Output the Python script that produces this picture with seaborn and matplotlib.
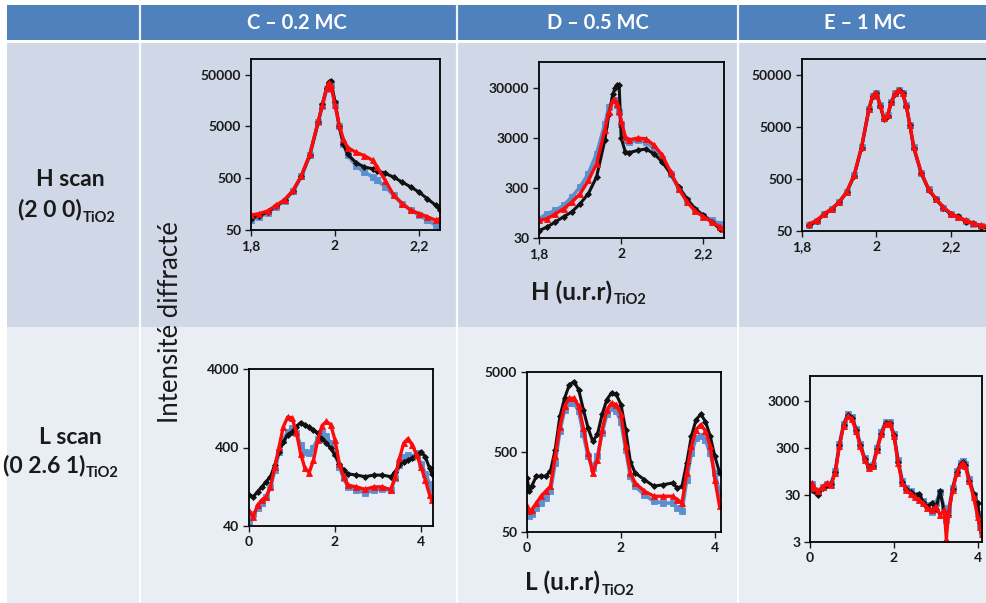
import matplotlib
matplotlib.use("Agg")
import matplotlib.pyplot as plt
from matplotlib.patches import Rectangle
from matplotlib.ticker import NullLocator
import seaborn as sns

# ============ data ============
# H scans, C - 0.2 MC
hC_x = [1.80, 1.82, 1.84, 1.86, 1.88, 1.90, 1.92, 1.94, 1.96, 1.97, 1.98, 1.985, 1.99, 2.00,
        2.01, 2.02, 2.03, 2.05, 2.07, 2.09, 2.10, 2.12, 2.14, 2.16, 2.18, 2.20, 2.22, 2.24, 2.25]
hC_black = [83, 95, 112, 145, 190, 285, 550, 1400, 6000, 13500, 28000, 36000, 38000, 15000,
            5000, 2300, 1450, 1000, 820, 760, 700, 620, 520, 420, 340, 270, 200, 150, 120]
hC_blue = [78, 90, 108, 140, 185, 280, 540, 1400, 6000, 12500, 26000, 32000, 33000, 14000,
           5000, 2300, 1400, 870, 650, 530, 460, 340, 232, 162, 121, 97, 78, 62, 54]
hC_red = [97, 104, 117, 150, 192, 290, 560, 1450, 6300, 13000, 27000, 34000, 32000, 13000,
          5400, 2800, 1950, 1580, 1360, 1100, 820, 450, 232, 162, 121, 104, 90, 77, 83]

# H scans, D - 0.5 MC
hD_x = [1.80, 1.82, 1.84, 1.86, 1.88, 1.90, 1.92, 1.94, 1.96, 1.97, 1.98, 1.985, 1.99, 1.995,
        2.00, 2.01, 2.02, 2.04, 2.06, 2.08, 2.10, 2.12, 2.14, 2.16, 2.18, 2.20, 2.22, 2.24, 2.25]
hD_black = [42, 50, 63, 80, 100, 146, 230, 500, 2700, 9000, 23000, 30000, 34000, 34000,
            3000, 1580, 1540, 1700, 1820, 1450, 1000, 580, 315, 183, 115, 85, 63, 46, 43]
hD_blue = [73, 92, 107, 135, 200, 315, 580, 1450, 5700, 12500, 17000, 17000, 14000, 10000,
           5700, 2700, 2500, 2700, 2500, 1820, 1160, 580, 290, 170, 107, 83, 68, 58, 54]
hD_red = [68, 73, 92, 115, 158, 230, 425, 920, 4300, 10000, 17000, 17500, 14500, 10500,
          6700, 3150, 2770, 3000, 2900, 2150, 1350, 630, 290, 158, 103, 80, 63, 50, 46]

# H scans, E - 1 MC
hE_x = [1.82, 1.84, 1.86, 1.88, 1.90, 1.92, 1.94, 1.96, 1.98, 1.99, 2.00, 2.01, 2.02, 2.03,
        2.04, 2.05, 2.06, 2.07, 2.08, 2.09, 2.10, 2.12, 2.14, 2.16, 2.18, 2.20, 2.22, 2.24,
        2.26, 2.28, 2.30]
hE_black = [64, 78, 104, 131, 178, 276, 575, 2000, 11000, 19500, 22000, 12800, 7200, 8200,
            14800, 21700, 25000, 21800, 12800, 5300, 2000, 650, 312, 202, 140, 104, 95, 76,
            72, 60, 58]
hE_blue = [66, 79, 106, 133, 180, 280, 585, 2030, 11100, 19800, 22300, 12900, 7250, 8250,
           14900, 21800, 25100, 21900, 12900, 5350, 2030, 660, 316, 205, 141, 106, 91, 78,
           69, 62, 59]
hE_red = [69, 80, 108, 134, 181, 282, 590, 2050, 11200, 20000, 22500, 13000, 7300, 8300,
          15000, 22000, 25300, 22000, 13000, 5400, 2050, 670, 320, 208, 143, 108, 93, 80,
          70, 64, 61]

# L scans, C - 0.2 MC
lC_x = [0.0, 0.1, 0.2, 0.3, 0.4, 0.5, 0.6, 0.7, 0.8, 0.9, 1.0, 1.1, 1.2, 1.3, 1.4, 1.5, 1.6,
        1.7, 1.8, 1.9, 2.0, 2.1, 2.2, 2.3, 2.5, 2.7, 2.9, 3.1, 3.3, 3.4, 3.5, 3.6, 3.7, 3.8,
        3.9, 4.0, 4.1, 4.2, 4.25]
lC_black = [100, 94, 110, 126, 147, 170, 240, 355, 475, 580, 635, 740, 830, 780, 720, 670,
            610, 520, 455, 390, 320, 250, 205, 185, 178, 170, 178, 178, 170, 196, 240, 265,
            275, 290, 320, 355, 305, 218, 185]
lC_blue = [45, 57, 67, 78, 94, 126, 205, 355, 500, 635, 700, 610, 430, 355, 340, 400, 520,
           610, 555, 455, 340, 228, 163, 126, 115, 105, 115, 117, 115, 163, 240, 305, 320,
           305, 340, 250, 185, 139, 120]
lC_red = [63, 52, 74, 86, 94, 126, 227, 410, 740, 980, 950, 635, 335, 218, 192, 275, 500,
          760, 860, 780, 500, 250, 170, 132, 126, 117, 126, 126, 115, 170, 290, 455, 520,
          430, 320, 228, 155, 100, 86]

# L scans, D - 0.5 MC
lD_x = [0.0, 0.05, 0.1, 0.2, 0.3, 0.4, 0.5, 0.6, 0.7, 0.8, 0.9, 1.0, 1.1, 1.2, 1.3, 1.4,
        1.5, 1.6, 1.7, 1.8, 1.9, 2.0, 2.1, 2.2, 2.3, 2.5, 2.7, 2.9, 3.1, 3.2, 3.3, 3.4, 3.5,
        3.6, 3.7, 3.8, 3.9, 4.0, 4.1]
lD_black = [236, 162, 187, 250, 250, 250, 290, 535, 1390, 2350, 3450, 3800, 3000, 1690,
            1000, 680, 830, 1480, 2260, 2750, 2620, 1960, 950, 380, 275, 225, 187, 195, 205,
            177, 187, 365, 790, 1270, 1480, 1200, 790, 440, 275]
lD_blue = [87, 79, 83, 100, 115, 133, 162, 365, 910, 1690, 2050, 2050, 1620, 830, 440, 316,
           440, 870, 1480, 1780, 1620, 1200, 535, 250, 187, 146, 121, 115, 115, 100, 91, 225,
           485, 750, 790, 700, 485, 275, 155]
lD_red = [105, 91, 95, 115, 140, 162, 187, 440, 1040, 1860, 2350, 2350, 1860, 1000, 485,
          275, 400, 950, 1690, 2050, 1960, 1480, 590, 275, 205, 162, 140, 140, 140, 127, 115,
          275, 590, 950, 1100, 910, 590, 225, 105]

# L scans, E - 1 MC
lE_x = [0.0, 0.05, 0.1, 0.2, 0.3, 0.4, 0.5, 0.6, 0.7, 0.8, 0.9, 1.0, 1.1, 1.2, 1.3, 1.4,
        1.5, 1.6, 1.7, 1.8, 1.9, 2.0, 2.1, 2.2, 2.3, 2.4, 2.5, 2.6, 2.7, 2.8, 2.9, 3.0, 3.1,
        3.2, 3.25, 3.3, 3.4, 3.5, 3.6, 3.65, 3.7, 3.8, 3.9, 4.0, 4.05, 4.1]
lE_black = [40, 47, 36, 30, 42, 48, 50, 90, 340, 900, 1480, 1280, 720, 340, 175, 118, 126,
            285, 600, 990, 1030, 560, 150, 56, 40, 34, 29, 32, 21, 17, 20, 15, 36, 13, 12,
            11, 40, 90, 138, 150, 128, 60, 32, 20, 8, 5]
lE_blue = [42, 50, 38, 34, 44, 50, 52, 95, 360, 950, 1550, 1350, 760, 360, 185, 125, 132,
           300, 640, 1050, 1080, 600, 165, 60, 42, 36, 30, 26, 22, 18, 13, 20, 34, 16, 9,
           14, 42, 95, 145, 158, 135, 64, 30, 12, 7, 5]
lE_red = [45, 53, 42, 36, 45, 53, 49, 87, 325, 870, 1430, 1210, 680, 325, 169, 113, 121,
          275, 580, 950, 1000, 540, 145, 53, 38, 32, 27, 23, 20, 15.5, 14.4, 17, 11.2, 14.4,
          3.5, 12, 38, 87, 131, 145, 121, 58, 27, 10.2, 6.3, 4.5]

h_ticks = [1.8, 2.0, 2.2]
h_ticklabels = ["1,8", "2", "2,2"]
l_ticks = [0, 2, 4]
l_ticklabels = ["0", "2", "4"]

columns = ["C – 0.2 MC", "D – 0.5 MC", "E – 1 MC"]

# ============ style ============
sns.set_style("white")
plt.rcParams["font.family"] = ["Lato", "DejaVu Sans"]

HEADER = "#4F81BD"
BAND1 = "#D0D8E8"
BAND2 = "#E9EDF4"
INK = "#1A1A1A"
C_BLACK = "#111111"
C_BLUE = "#5B8FCF"
C_RED = "#FF0a0a"

W, H = 987, 603
fig = plt.figure(figsize=(W / 100, H / 100), dpi=100)

# table background, drawn in pixel coordinates
bg = fig.add_axes([0, 0, 1, 1])
bg.set_xlim(0, W)
bg.set_ylim(H, 0)
bg.axis("off")
bg.add_patch(Rectangle((7, 5), W - 7, 35, color=HEADER, lw=0))
bg.add_patch(Rectangle((7, 43), W - 7, 284, color=BAND1, lw=0))
bg.add_patch(Rectangle((7, 327), W - 7, H - 327, color=BAND2, lw=0))
for xc in (140, 457, 738):
    bg.plot([xc, xc], [5, H], color="white", lw=1.6, alpha=0.9)

for xc, name in zip((297, 598, 865), columns):
    bg.text(xc, 23, name, ha="center", va="center", color="white",
            fontsize=14.5, fontweight="bold")

# row labels
bg.text(70, 180, "H scan", ha="center", va="center", color=INK, fontsize=16.5, fontweight="bold")
bg.text(82, 210, "(2 0 0)", ha="right", va="center", color=INK, fontsize=16.5, fontweight="bold")
bg.text(83, 218, "TiO2", ha="left", va="center", color=INK, fontsize=10.5, fontweight="bold")
bg.text(70, 437, "L scan", ha="center", va="center", color=INK, fontsize=16.5, fontweight="bold")
bg.text(85, 465, "(0 2.6 1)", ha="right", va="center", color=INK, fontsize=16.5, fontweight="bold")
bg.text(86, 473, "TiO2", ha="left", va="center", color=INK, fontsize=10.5, fontweight="bold")

# shared axis titles
bg.text(170, 322, "Intensité diffracté", rotation=90, ha="center", va="center",
        color=INK, fontsize=18.5)
bg.text(612, 292, "H (u.r.r)", ha="right", va="center", color=INK, fontsize=17.5, fontweight="bold")
bg.text(614, 300, "TiO2", ha="left", va="center", color=INK, fontsize=10.5, fontweight="bold")
bg.text(600, 582, "L (u.r.r)", ha="right", va="center", color=INK, fontsize=17.5, fontweight="bold")
bg.text(602, 591, "TiO2", ha="left", va="center", color=INK, fontsize=10.5, fontweight="bold")


def draw_panel(box, x, black, blue, red, xlim, ylim, xticks, xlabels, yticks,
               hide_right=False):
    """One scan panel; box = (left, top, right, bottom) in pixels."""
    left, top, right, bottom = box
    ax = fig.add_axes([left / W, 1 - bottom / H, (right - left) / W, (bottom - top) / H])
    ax.patch.set_alpha(0)
    for y, color, marker, ms, lw in ((blue, C_BLUE, "s", 4.2, 2.6),
                                     (black, C_BLACK, "D", 3.0, 2.2),
                                     (red, C_RED, "^", 4.0, 2.4)):
        sns.lineplot(x=x, y=y, ax=ax, color=color, marker=marker, markersize=ms,
                     markeredgecolor=color, markeredgewidth=0.6, linewidth=lw,
                     sort=False, estimator=None, legend=False)
    ax.set_yscale("log")
    ax.set_xlim(*xlim)
    ax.set_ylim(*ylim)
    ax.set_xticks(xticks, labels=xlabels)
    ax.set_yticks(yticks, labels=[str(t) for t in yticks])
    ax.yaxis.set_minor_locator(NullLocator())
    ax.xaxis.set_minor_locator(NullLocator())
    ax.set_xlabel("")
    ax.set_ylabel("")
    ax.tick_params(axis="both", direction="out", length=4, width=1, pad=3,
                   labelsize=10, colors=INK, left=True, bottom=True)
    for lab in ax.get_xticklabels() + ax.get_yticklabels():
        lab.set_fontweight("bold")
    for side, sp in ax.spines.items():
        sp.set_color("black")
        sp.set_linewidth(1.3)
    if hide_right:
        ax.spines["right"].set_visible(False)
    return ax


draw_panel((251, 59, 440, 230), hC_x, hC_black, hC_blue, hC_red,
           (1.8, 2.25), (50, 1e5), h_ticks, h_ticklabels, [50, 500, 5000, 50000])
draw_panel((539, 62, 724, 238), hD_x, hD_black, hD_blue, hD_red,
           (1.8, 2.25), (30, 1e5), h_ticks, h_ticklabels, [30, 300, 3000, 30000])
draw_panel((802, 59, 987, 231), hE_x, hE_black, hE_blue, hE_red,
           (1.8, 2.297), (50, 1e5), h_ticks, h_ticklabels, [50, 500, 5000, 50000],
           hide_right=True)
draw_panel((249, 369, 433, 526), lC_x, lC_black, lC_blue, lC_red,
           (0, 4.28), (40, 4000), l_ticks, l_ticklabels, [40, 400, 4000])
draw_panel((527, 372, 721, 532), lD_x, lD_black, lD_blue, lD_red,
           (0, 4.13), (50, 5000), l_ticks, l_ticklabels, [50, 500, 5000])
draw_panel((810, 376, 982, 542), lE_x, lE_black, lE_blue, lE_red,
           (0, 4.1), (3, 1e4), l_ticks, l_ticklabels, [3, 30, 300, 3000])

fig.savefig("out.png", dpi=100)
plt.close(fig)
